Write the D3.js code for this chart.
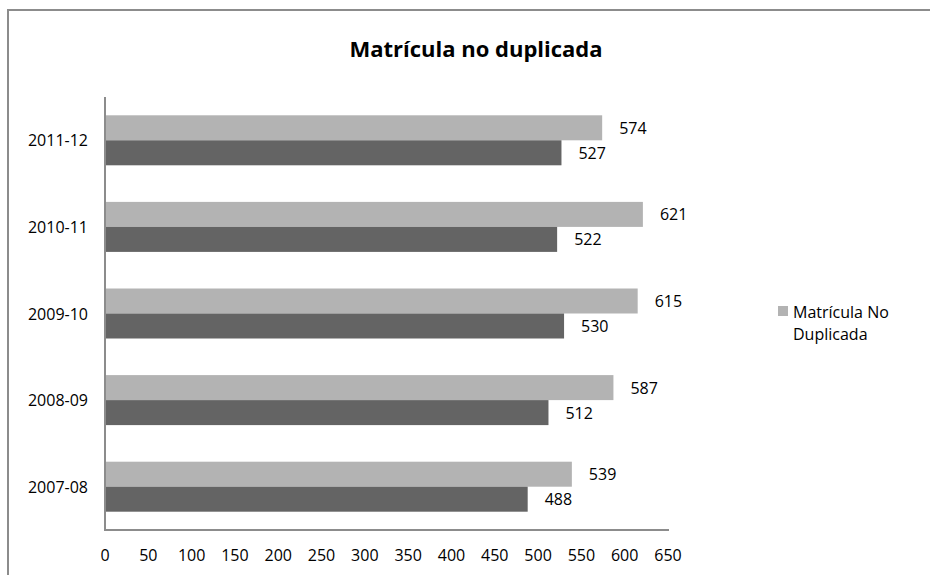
<!DOCTYPE html>
<html lang="es">
<head>
    <meta charset="UTF-8">
    <title>Matrícula no duplicada</title>
    <script src="https://cdn.jsdelivr.net/npm/d3@7"></script>
    <style>
        body { margin: 0; background: #fff; }
        svg text { font-family: "Open Sans", Lato, "Liberation Sans", sans-serif; fill: #000; }
    </style>
</head>
<body>
<svg id="chart" width="930" height="575"></svg>
<script>
    // categories, bottom to top as in the picture
    var years = ["2007-08", "2008-09", "2009-10", "2010-11", "2011-12"];
    var seriesLight = [539, 587, 615, 621, 574];   // Matrícula No Duplicada
    var seriesDark = [488, 512, 530, 522, 527];
    var xTicks = [0, 50, 100, 150, 200, 250, 300, 350, 400, 450, 500, 550, 600, 650];
    var legendLines = ["Matrícula No", "Duplicada"];

    var svg = d3.select("#chart");

    // outer frame (right and bottom fall outside the picture)
    svg.append("rect")
        .attr("x", 8).attr("y", 10)
        .attr("width", 940).attr("height", 600)
        .attr("fill", "none")
        .attr("stroke", "#8c8c8c")
        .attr("stroke-width", 2);

    svg.append("text")
        .attr("x", 476).attr("y", 57)
        .attr("text-anchor", "middle")
        .style("font-size", "22px")
        .style("font-weight", "bold")
        .text("Matrícula no duplicada");

    var plotL = 105, plotR = 668, plotT = 97, plotB = 530;

    var x = d3.scaleLinear().domain([0, 650]).range([plotL, plotR]);
    var y = d3.scaleBand().domain(years.slice().reverse()).range([plotT, plotB]);
    var barH = 25;

    // axes lines
    svg.append("line")
        .attr("x1", plotL).attr("x2", plotL)
        .attr("y1", plotT).attr("y2", plotB)
        .attr("stroke", "#8c8c8c").attr("stroke-width", 2);
    svg.append("line")
        .attr("x1", plotL - 1).attr("x2", plotR + 1)
        .attr("y1", plotB).attr("y2", plotB)
        .attr("stroke", "#8c8c8c").attr("stroke-width", 2);

    // x tick labels
    svg.append("g").selectAll("text")
        .data(xTicks)
        .enter().append("text")
        .attr("x", function(d) { return x(d); })
        .attr("y", 561)
        .attr("text-anchor", "middle")
        .style("font-size", "16px")
        .text(function(d) { return d; });

    // category labels
    svg.append("g").selectAll("text")
        .data(years)
        .enter().append("text")
        .attr("x", 88)
        .attr("y", function(d) { return y(d) + y.bandwidth() / 2 + 6; })
        .attr("text-anchor", "end")
        .style("font-size", "16px")
        .text(function(d) { return d; });

    function drawSeries(values, color, offset) {
        var g = svg.append("g");
        g.selectAll("rect")
            .data(values)
            .enter().append("rect")
            .attr("x", x(0) + 1)
            .attr("y", function(d, i) { return y(years[i]) + y.bandwidth() / 2 + offset; })
            .attr("width", function(d) { return x(d) - x(0) - 1; })
            .attr("height", barH)
            .attr("fill", color);
        g.selectAll("text")
            .data(values)
            .enter().append("text")
            .attr("x", function(d) { return x(d) + 17; })
            .attr("y", function(d, i) { return y(years[i]) + y.bandwidth() / 2 + offset + barH / 2 + 6; })
            .style("font-size", "16px")
            .text(function(d) { return d; });
    }

    drawSeries(seriesLight, "#b3b3b3", -barH);
    drawSeries(seriesDark, "#646464", 0);

    // legend
    svg.append("rect")
        .attr("x", 778).attr("y", 306)
        .attr("width", 10).attr("height", 10)
        .attr("fill", "#b3b3b3");
    svg.append("g").selectAll("text")
        .data(legendLines)
        .enter().append("text")
        .attr("x", 793)
        .attr("y", function(d, i) { return 318 + i * 22; })
        .style("font-size", "16px")
        .text(function(d) { return d; });
</script>
</body>
</html>
